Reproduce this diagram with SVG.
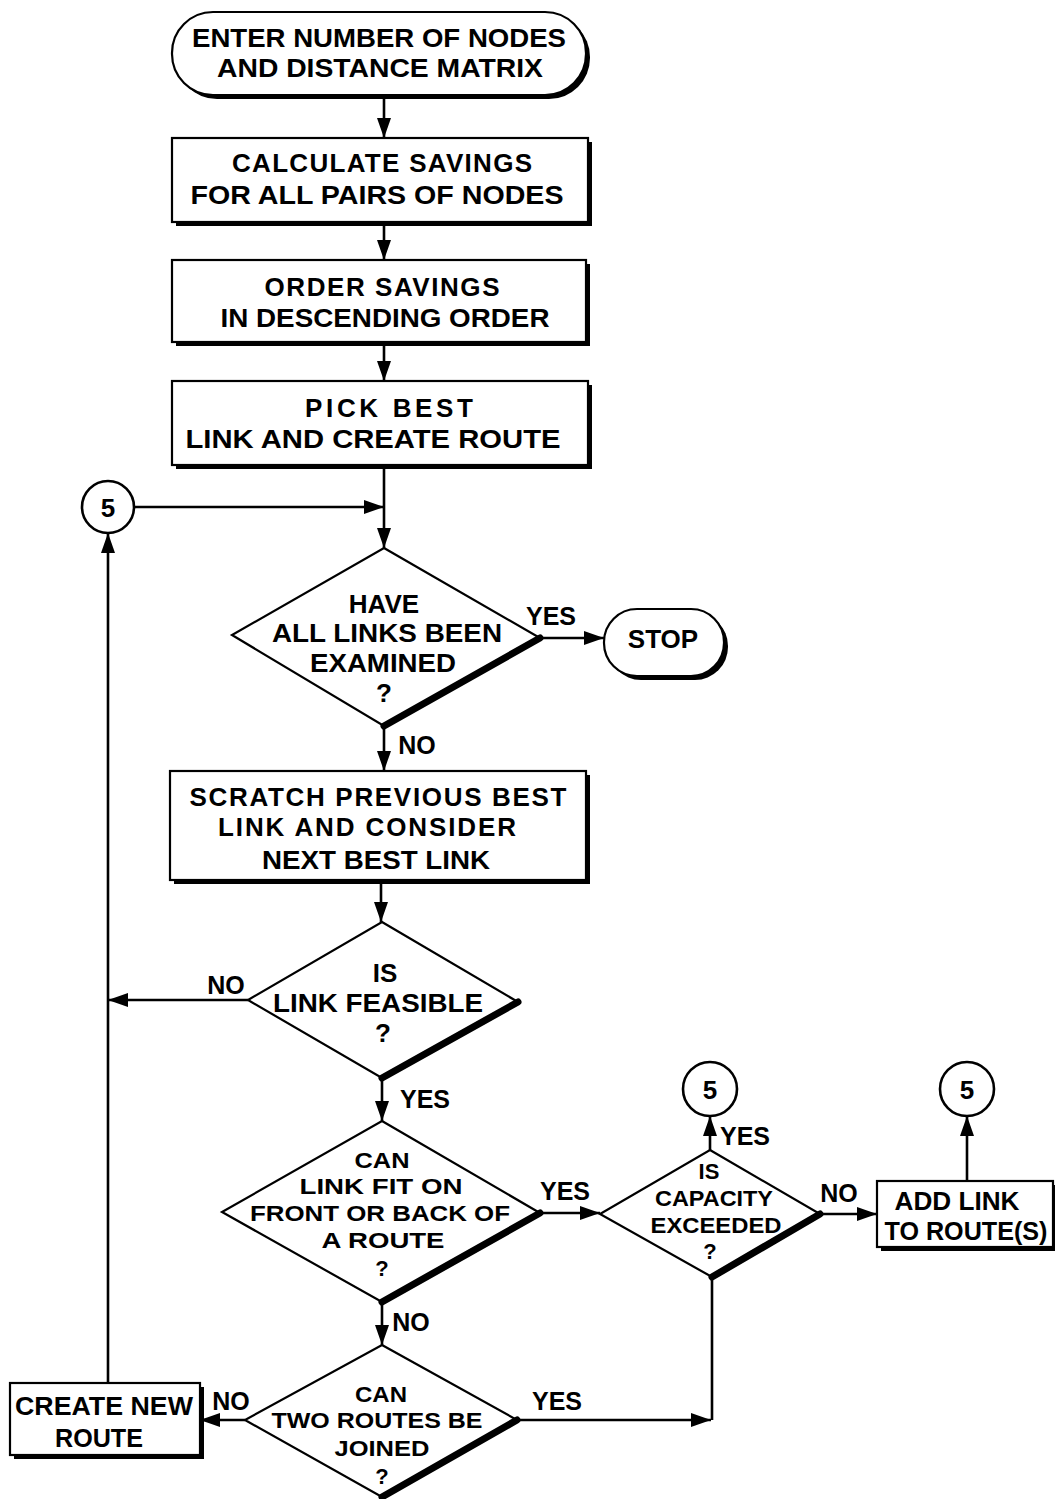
<svg xmlns="http://www.w3.org/2000/svg" width="1055" height="1499" viewBox="0 0 1055 1499">
<defs>
<style>
text{font-family:"Liberation Sans",Arial,sans-serif;font-weight:bold;font-size:26px;fill:#000;text-anchor:middle}
.lbl{font-size:25px}
.sm{font-size:22px}
.box{fill:#fff;stroke:#000;stroke-width:2.2}
.sh{fill:#000}
.dia{fill:#fff;stroke:#000;stroke-width:2.2}
.thick{stroke:#000;stroke-width:7;stroke-linecap:round;fill:none}
.con{stroke:#000;stroke-width:2.6;fill:none}
.circ{fill:#fff;stroke:#000;stroke-width:2.6}
</style>
<marker id="ah" markerUnits="userSpaceOnUse" markerWidth="22" markerHeight="14" refX="20" refY="7" orient="auto">
<path d="M0,0 L20,7 L0,14 Z" fill="#000"/>
</marker>
</defs>
<rect width="1055" height="1499" fill="#fff"/>

<g id="connectors">
<line class="con" x1="384" y1="95" x2="384" y2="138" marker-end="url(#ah)"/>
<line class="con" x1="384" y1="222" x2="384" y2="260" marker-end="url(#ah)"/>
<line class="con" x1="384" y1="342" x2="384" y2="381" marker-end="url(#ah)"/>
<line class="con" x1="384" y1="465" x2="384" y2="548" marker-end="url(#ah)"/>
<line class="con" x1="134" y1="507" x2="384" y2="507" marker-end="url(#ah)"/>
<line class="con" x1="540" y1="638" x2="604" y2="638" marker-end="url(#ah)"/>
<line class="con" x1="384" y1="726" x2="384" y2="771" marker-end="url(#ah)"/>
<line class="con" x1="381" y1="884" x2="381" y2="922" marker-end="url(#ah)"/>
<line class="con" x1="248" y1="1000" x2="108" y2="1000" marker-end="url(#ah)"/>
<line class="con" x1="108" y1="1383" x2="108" y2="533" marker-end="url(#ah)"/>
<line class="con" x1="382" y1="1078" x2="382" y2="1121" marker-end="url(#ah)"/>
<line class="con" x1="540" y1="1213" x2="600" y2="1213" marker-end="url(#ah)"/>
<line class="con" x1="710" y1="1150" x2="710" y2="1116" marker-end="url(#ah)"/>
<line class="con" x1="820" y1="1214" x2="877" y2="1214" marker-end="url(#ah)"/>
<line class="con" x1="967" y1="1181" x2="967" y2="1116" marker-end="url(#ah)"/>
<line class="con" x1="382" y1="1302" x2="382" y2="1345" marker-end="url(#ah)"/>
<line class="con" x1="245" y1="1420" x2="200" y2="1420" marker-end="url(#ah)"/>
<line class="con" x1="712" y1="1277" x2="712" y2="1420"/>
<line class="con" x1="517" y1="1420" x2="711" y2="1420" marker-end="url(#ah)"/>
</g>

<g id="start">
<rect class="sh" x="176" y="16" width="414" height="83" rx="41"/>
<rect class="box" x="172" y="12" width="414" height="83" rx="41"/>
<text x="379" y="47" textLength="374" lengthAdjust="spacingAndGlyphs">ENTER NUMBER OF NODES</text>
<text x="380" y="77" textLength="326" lengthAdjust="spacingAndGlyphs">AND DISTANCE MATRIX</text>
</g>

<g id="calc">
<rect class="sh" x="176" y="142" width="416" height="84"/>
<rect class="box" x="172" y="138" width="416" height="84"/>
<text x="382" y="172" textLength="300" lengthAdjust="spacing">CALCULATE SAVINGS</text>
<text x="377" y="204" textLength="373" lengthAdjust="spacingAndGlyphs">FOR ALL PAIRS OF NODES</text>
</g>

<g id="order">
<rect class="sh" x="176" y="264" width="414" height="82"/>
<rect class="box" x="172" y="260" width="414" height="82"/>
<text x="382" y="296" textLength="235" lengthAdjust="spacing">ORDER SAVINGS</text>
<text x="385" y="327" textLength="329" lengthAdjust="spacingAndGlyphs">IN DESCENDING ORDER</text>
</g>

<g id="pick">
<rect class="sh" x="176" y="385" width="416" height="84"/>
<rect class="box" x="172" y="381" width="416" height="84"/>
<text x="389" y="417" textLength="168" lengthAdjust="spacing">PICK BEST</text>
<text x="373" y="448" textLength="375" lengthAdjust="spacingAndGlyphs">LINK AND CREATE ROUTE</text>
</g>

<g id="conn5a">
<circle class="circ" cx="108" cy="507" r="26"/>
<text x="108" y="517">5</text>
</g>

<g id="examined">
<polygon class="dia" points="384,548 540,638 384,726 232,635"/>
<line class="thick" x1="540" y1="638" x2="384" y2="726"/>
<text x="384" y="613">HAVE</text>
<text x="387" y="642" textLength="230" lengthAdjust="spacingAndGlyphs">ALL LINKS BEEN</text>
<text x="383" y="672" textLength="146" lengthAdjust="spacingAndGlyphs">EXAMINED</text>
<text x="384" y="702">?</text>
<text class="lbl" x="551" y="625">YES</text>
<text class="lbl" x="417" y="754">NO</text>
</g>

<g id="stop">
<rect class="sh" x="608" y="613" width="120" height="67" rx="33"/>
<rect class="box" x="604" y="609" width="120" height="67" rx="33"/>
<text x="663" y="648">STOP</text>
</g>

<g id="scratch">
<rect class="sh" x="174" y="775" width="416" height="109"/>
<rect class="box" x="170" y="771" width="416" height="109"/>
<text x="378" y="806" textLength="377" lengthAdjust="spacing">SCRATCH PREVIOUS BEST</text>
<text x="367" y="836" textLength="298" lengthAdjust="spacing">LINK AND CONSIDER</text>
<text x="376" y="869" textLength="228" lengthAdjust="spacingAndGlyphs">NEXT BEST LINK</text>
</g>

<g id="feasible">
<polygon class="dia" points="382,922 518,1002 382,1078 248,1000"/>
<line class="thick" x1="518" y1="1002" x2="382" y2="1078"/>
<text x="385" y="982">IS</text>
<text x="378" y="1012" textLength="210" lengthAdjust="spacingAndGlyphs">LINK FEASIBLE</text>
<text x="383" y="1042">?</text>
<text class="lbl" x="226" y="994">NO</text>
<text class="lbl" x="425" y="1108">YES</text>
</g>

<g id="fit">
<polygon class="dia" points="382,1121 540,1213 382,1302 222,1212"/>
<line class="thick" x1="540" y1="1213" x2="382" y2="1302"/>
<text class="sm" x="382" y="1168" textLength="55" lengthAdjust="spacingAndGlyphs">CAN</text>
<text class="sm" x="381" y="1194" textLength="163" lengthAdjust="spacingAndGlyphs">LINK FIT ON</text>
<text class="sm" x="380" y="1221" textLength="260" lengthAdjust="spacingAndGlyphs">FRONT OR BACK OF</text>
<text class="sm" x="383" y="1248" textLength="123" lengthAdjust="spacingAndGlyphs">A ROUTE</text>
<text class="sm" x="382" y="1276">?</text>
<text class="lbl" x="565" y="1200">YES</text>
<text class="lbl" x="411" y="1331">NO</text>
</g>

<g id="capacity">
<polygon class="dia" points="710,1150 820,1214 712,1277 600,1214"/>
<line class="thick" x1="820" y1="1214" x2="712" y2="1277"/>
<text class="sm" x="709" y="1179">IS</text>
<text class="sm" x="714" y="1206" textLength="118" lengthAdjust="spacingAndGlyphs">CAPACITY</text>
<text class="sm" x="716" y="1233" textLength="131" lengthAdjust="spacingAndGlyphs">EXCEEDED</text>
<text class="sm" x="710" y="1259">?</text>
<text class="lbl" x="745" y="1145">YES</text>
<text class="lbl" x="839" y="1202">NO</text>
</g>

<g id="conn5b">
<circle class="circ" cx="710" cy="1089" r="27"/>
<text x="710" y="1099">5</text>
</g>

<g id="addlink">
<rect class="sh" x="881" y="1185" width="178" height="66"/>
<rect class="box" x="877" y="1181" width="176" height="66"/>
<text x="957" y="1210" textLength="125" lengthAdjust="spacingAndGlyphs">ADD LINK</text>
<text x="966" y="1240" textLength="163" lengthAdjust="spacingAndGlyphs">TO ROUTE(S)</text>
</g>

<g id="conn5c">
<circle class="circ" cx="967" cy="1089" r="27"/>
<text x="967" y="1099">5</text>
</g>

<g id="joined">
<polygon class="dia" points="382,1345 517,1420 382,1497 245,1420"/>
<line class="thick" x1="517" y1="1420" x2="382" y2="1497"/>
<text class="sm" x="381" y="1402" textLength="52" lengthAdjust="spacingAndGlyphs">CAN</text>
<text class="sm" x="377" y="1428" textLength="211" lengthAdjust="spacingAndGlyphs">TWO ROUTES BE</text>
<text class="sm" x="382" y="1456" textLength="95" lengthAdjust="spacingAndGlyphs">JOINED</text>
<text class="sm" x="382" y="1484">?</text>
<text class="lbl" x="557" y="1410">YES</text>
<text class="lbl" x="231" y="1410">NO</text>
</g>

<g id="newroute">
<rect class="sh" x="14" y="1387" width="190" height="72"/>
<rect class="box" x="10" y="1383" width="190" height="72"/>
<text x="104" y="1415" textLength="178" lengthAdjust="spacingAndGlyphs">CREATE NEW</text>
<text x="99" y="1447" textLength="88" lengthAdjust="spacingAndGlyphs">ROUTE</text>
</g>
</svg>
